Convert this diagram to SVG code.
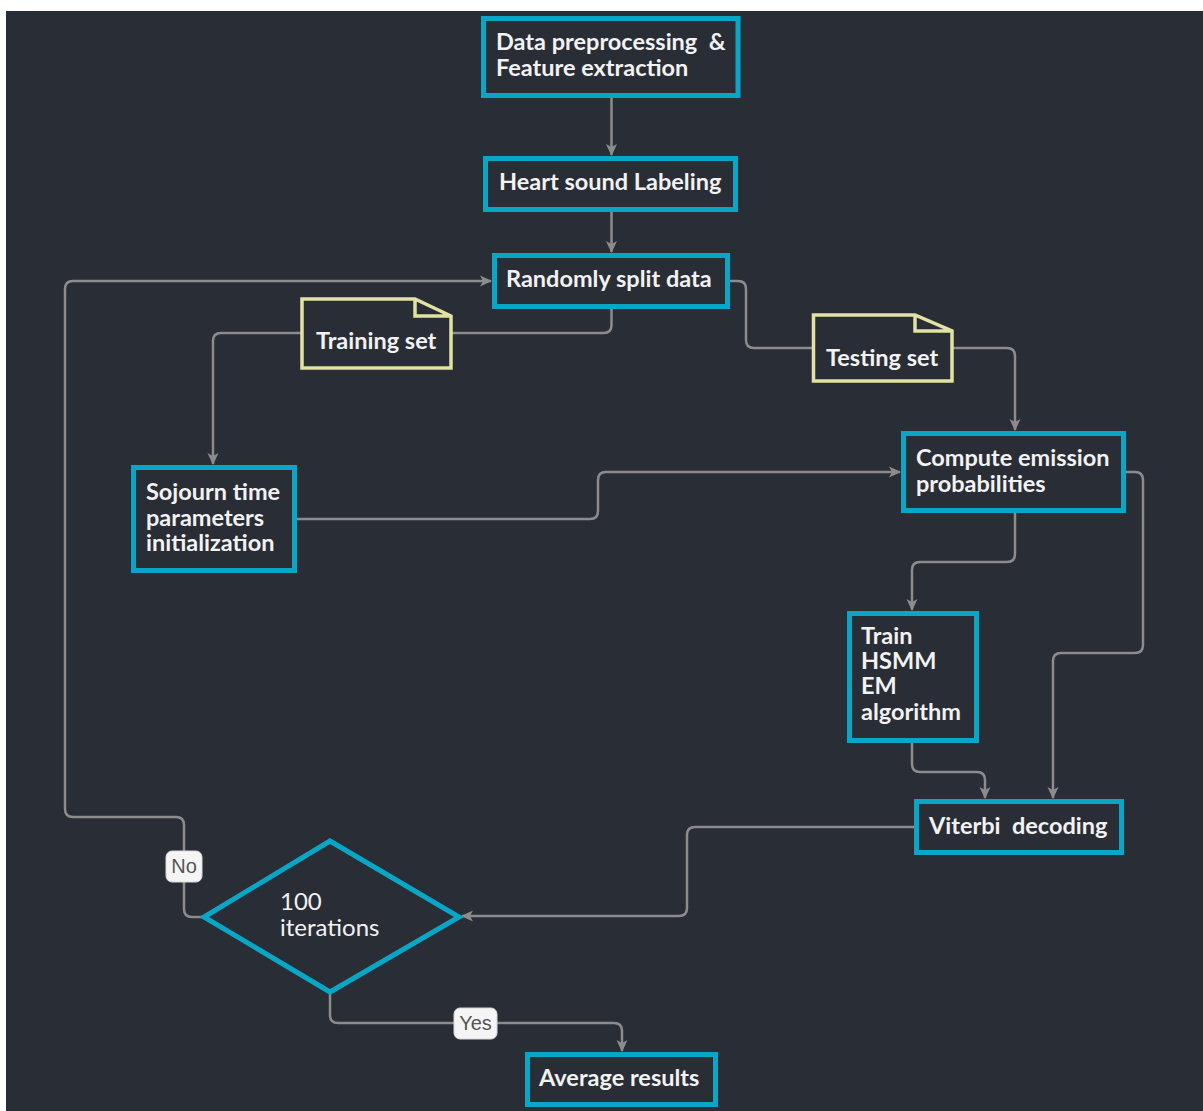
<svg xmlns="http://www.w3.org/2000/svg" width="1203" height="1111" viewBox="0 0 1203 1111">
<style>
.bg{fill:#292d36}
.box{fill:#292d36;stroke:#0aa6c6;stroke-width:5}
.note{fill:#292d36;stroke:#e2e2a2;stroke-width:3.5;stroke-linejoin:miter}
.t{font-family:Lato,"Liberation Sans",sans-serif;font-weight:bold;font-size:23.5px;fill:#f2f2f2;white-space:pre}
.d{font-family:Lato,"Liberation Sans",sans-serif;font-weight:normal;font-size:24px;fill:#f2f2f2}
.c{fill:none;stroke:#8c8c8c;stroke-width:2.5}
.lbl{fill:#f5f5f5;stroke:#d8d8d8;stroke-width:1}
.lt{font-family:"Liberation Sans",Arial,sans-serif;font-size:20px;fill:#555}
</style>
<defs>
<marker id="ah" markerUnits="userSpaceOnUse" markerWidth="14" markerHeight="14" refX="11" refY="6" orient="auto">
<path d="M0,0.5 L12,6 L0,11.5 L3,6 z" fill="#8c8c8c"/>
</marker>
</defs>
<rect x="0" y="0" width="1203" height="1111" fill="#ffffff"/>
<rect class="bg" x="6" y="11" width="1197" height="1100"/>
<g id="connectors">
<path class="c" d="M611.5 98 V155" marker-end="url(#ah)"/>
<path class="c" d="M611.5 212 V252" marker-end="url(#ah)"/>
<path class="c" d="M611.5 309 V325 Q611.5 333 603.5 333 H221 Q213 333 213 341 V464" marker-end="url(#ah)"/>
<path class="c" d="M730 281 H738 Q746 281 746 289 V340 Q746 348 754 348 H1007 Q1015 348 1015 356 V430" marker-end="url(#ah)"/>
<path class="c" d="M297 519 H590 Q598 519 598 511 V480 Q598 472 606 472 H900" marker-end="url(#ah)"/>
<path class="c" d="M1015 513 V554 Q1015 562 1007 562 H920 Q912 562 912 570 V610" marker-end="url(#ah)"/>
<path class="c" d="M1126 472 H1135 Q1143 472 1143 480 V645 Q1143 653 1135 653 H1061 Q1053 653 1053 661 V798" marker-end="url(#ah)"/>
<path class="c" d="M912 743 V764 Q912 772 920 772 H977 Q985 772 985 780 V798" marker-end="url(#ah)"/>
<path class="c" d="M914 827 H695 Q687 827 687 835 V908 Q687 916 679 916 H462" marker-end="url(#ah)"/>
<path class="c" d="M202 917 H192 Q184 917 184 909 V825 Q184 817 176 817 H73 Q65 817 65 809 V289 Q65 281 73 281 H491" marker-end="url(#ah)"/>
<path class="c" d="M330 993 V1015 Q330 1023 338 1023 H614 Q622 1023 622 1031 V1051" marker-end="url(#ah)"/>
</g>
<g id="n-preprocess">
<rect class="box" x="483.5" y="18.5" width="254.5" height="77"/>
<text class="t" x="496" y="50">Data preprocessing  &amp;</text>
<text class="t" x="496" y="76">Feature extraction</text>
</g>
<g id="n-labeling">
<rect class="box" x="485.5" y="158.5" width="250" height="51"/>
<text class="t" x="499" y="190">Heart sound Labeling</text>
</g>
<g id="n-split">
<rect class="box" x="494.5" y="255.5" width="233" height="51"/>
<text class="t" x="506" y="287">Randomly split data</text>
</g>
<g id="n-training">
<path class="note" d="M302 299 H415 L451 316 V368 H302 Z M415 299 V316 H451"/>
<text class="t" x="316" y="349">Training set</text>
</g>
<g id="n-testing">
<path class="note" d="M813.5 315 H915 L952 331 V381 H813.5 Z M915 315 V331 H952"/>
<text class="t" x="826" y="366">Testing set</text>
</g>
<g id="n-sojourn">
<rect class="box" x="133.5" y="467.5" width="161" height="103"/>
<text class="t" x="146" y="500">Sojourn time</text>
<text class="t" x="146" y="526">parameters</text>
<text class="t" x="146" y="551">initialization</text>
</g>
<g id="n-emission">
<rect class="box" x="903.5" y="433.5" width="220" height="77"/>
<text class="t" x="916" y="466">Compute emission</text>
<text class="t" x="916" y="492">probabilities</text>
</g>
<g id="n-train">
<rect class="box" x="849.5" y="613.5" width="127" height="127"/>
<text class="t" x="861" y="644">Train</text>
<text class="t" x="861" y="669">HSMM</text>
<text class="t" x="861" y="694">EM</text>
<text class="t" x="861" y="720">algorithm</text>
</g>
<g id="n-viterbi">
<rect class="box" x="916.5" y="801.5" width="205" height="51"/>
<text class="t" x="929" y="834">Viterbi  decoding</text>
</g>
<g id="n-iter">
<path class="box" d="M330 841 L459 917 L330 992 L204 917 Z"/>
<text class="d" x="280" y="910">100</text>
<text class="d" x="280" y="936">iterations</text>
</g>
<g id="n-average">
<rect class="box" x="527.5" y="1054.5" width="188" height="50"/>
<text class="t" x="539" y="1086">Average results</text>
</g>
<g id="edge-labels">
<rect class="lbl" x="166" y="851" width="36" height="31" rx="6"/>
<text class="lt" x="184" y="873" text-anchor="middle">No</text>
<rect class="lbl" x="454" y="1008" width="43" height="31" rx="6"/>
<text class="lt" x="475.5" y="1030" text-anchor="middle">Yes</text>
</g>
</svg>
